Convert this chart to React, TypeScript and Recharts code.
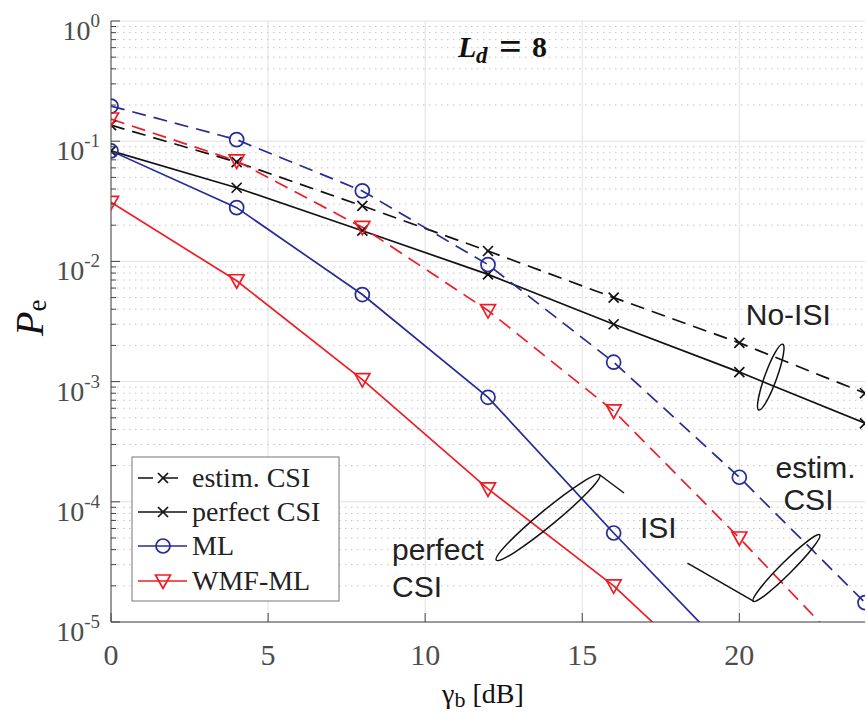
import React from 'react';
import { LineChart, Line, XAxis, YAxis, CartesianGrid, ReferenceDot } from 'recharts';

// ---------- data ----------
const snrDb = [0, 4, 8, 12, 16, 20, 24];
const noIsiEstim = [0.136, 0.067, 0.029, 0.0122, 0.005, 0.0021, 0.0008];
const noIsiPerfect = [0.083, 0.041, 0.018, 0.0078, 0.003, 0.0012, 0.00045];
const mlEstim = [0.196, 0.103, 0.0386, 0.0094, 0.00145, 0.00016, 0.0000145];
const mlPerfect = [0.083, 0.028, 0.0053, 0.00074, 0.000055, 0.0000045, null];
const wmfEstim = [0.153, 0.0685, 0.0192, 0.0039, 0.00057, 0.00005, 0.000004];
const wmfPerfect = [0.031, 0.0069, 0.00104, 0.000128, 0.00002, 0.0000021, null];

const xTicks = [0, 5, 10, 15, 20];
const yMajor = [1e-5, 1e-4, 1e-3, 1e-2, 1e-1, 1];
const yMinorFactors = [2, 3, 4, 5, 6, 7, 8, 9];
const yMinor = yMajor.slice(0, 5).flatMap((d) => yMinorFactors.map((f) => f * d));
const yAll = [...yMajor, ...yMinor];

const legendItems = [
  { label: 'estim. CSI', color: '#111', dash: true, marker: 'x' },
  { label: 'perfect CSI', color: '#111', dash: false, marker: 'x' },
  { label: 'ML', color: '#262b96', dash: false, marker: 'o' },
  { label: 'WMF-ML', color: '#ef1c25', dash: false, marker: 'v' },
];

const data = snrDb.map((x, i) => ({
  x,
  noIsiEstim: noIsiEstim[i],
  noIsiPerfect: noIsiPerfect[i],
  mlEstim: mlEstim[i],
  mlPerfect: mlPerfect[i],
  wmfEstim: wmfEstim[i],
  wmfPerfect: wmfPerfect[i],
}));

const BLACK = '#111';
const BLUE = '#262b96';
const RED = '#ef1c25';
const SERIF = "'Liberation Serif', 'Times New Roman', serif";
const SANS = "'Liberation Sans', Arial, sans-serif";
const TICK_COLOR = '#4d4d4d';
const AXIS_COLOR = '#444';
const DASH = '14 8';
const SW = 1.7;

// ---------- markers ----------
function crossShape(cx: number, cy: number, color: string, key?: any) {
  const s = 5;
  return (
    <g key={key}>
      <line x1={cx - s} y1={cy - s} x2={cx + s} y2={cy + s} stroke={color} strokeWidth={SW} />
      <line x1={cx - s} y1={cy + s} x2={cx + s} y2={cy - s} stroke={color} strokeWidth={SW} />
    </g>
  );
}
function circleShape(cx: number, cy: number, color: string, key?: any) {
  return <circle key={key} cx={cx} cy={cy} r={7} fill="none" stroke={color} strokeWidth={SW} />;
}
function triShape(cx: number, cy: number, color: string, key?: any) {
  const pts = `${cx - 7.5},${cy - 6} ${cx + 7.5},${cy - 6} ${cx},${cy + 7.5}`;
  return <polygon key={key} points={pts} fill="none" stroke={color} strokeWidth={SW} strokeLinejoin="miter" />;
}

const makeDot = (kind: string, color: string) => (p: any) => {
  const key = `${p.dataKey}-${p.index}`;
  if (p.cx == null || p.cy == null || p.value == null) return <g key={key} />;
  if (kind === 'x') return crossShape(p.cx, p.cy, color, key);
  if (kind === 'o') return circleShape(p.cx, p.cy, color, key);
  return triShape(p.cx, p.cy, color, key);
};

// ---------- ticks ----------
const isMajor = (v: number) => {
  const l = Math.log10(v);
  return Math.abs(l - Math.round(l)) < 1e-6;
};

const LeftTick = (props: any) => {
  const { x, y, payload } = props;
  const v = payload.value;
  const major = isMajor(v);
  const e = Math.round(Math.log10(v));
  return (
    <g>
      <line x1={x} x2={x + (major ? 9 : 5)} y1={y} y2={y} stroke={AXIS_COLOR} strokeWidth={1} />
      {major && (
        <text x={x - 11} y={y + 19} textAnchor="end" fontFamily={SERIF} fontSize={28} fill={TICK_COLOR}>
          10
          <tspan fontSize={19} dy={-13}>{String(e)}</tspan>
        </text>
      )}
    </g>
  );
};

const RightTick = (props: any) => {
  const { x, y, payload } = props;
  const major = isMajor(payload.value);
  return <line x1={x} x2={x - (major ? 9 : 5)} y1={y} y2={y} stroke={AXIS_COLOR} strokeWidth={1} />;
};

const BottomTick = (props: any) => {
  const { x, y, payload } = props;
  return (
    <g>
      <line x1={x} x2={x} y1={y} y2={y - 9} stroke={AXIS_COLOR} strokeWidth={1} />
      <text x={x} y={y + 43} textAnchor="middle" fontFamily={SERIF} fontSize={30} fill={TICK_COLOR}>
        {payload.value}
      </text>
    </g>
  );
};

const TopTick = (props: any) => {
  const { x, y } = props;
  return <line x1={x} x2={x} y1={y} y2={y + 9} stroke={AXIS_COLOR} strokeWidth={1} />;
};

// ---------- annotations ----------
const noIsiShape = (p: any) => {
  const { cx, cy } = p;
  return (
    <g>
      <ellipse cx={cx} cy={cy} rx={6} ry={35} transform={`rotate(20 ${cx} ${cy})`} fill="none" stroke={BLACK} strokeWidth={1.5} />
      <text x={cx - 25} y={cy - 52} fontFamily={SANS} fontSize={30} fill="#222">No-ISI</text>
    </g>
  );
};
const estimShape = (p: any) => {
  const { cx, cy } = p;
  return (
    <g>
      <ellipse cx={cx} cy={cy} rx={47} ry={6} transform={`rotate(-45 ${cx} ${cy})`} fill="none" stroke={BLACK} strokeWidth={1.5} />
      <polyline points={`${cx - 33},${cy + 33} ${cx - 99},${cy - 5}`} fill="none" stroke={BLACK} strokeWidth={1.5} />
      <text x={cx - 11} y={cy - 90} fontFamily={SANS} fontSize={30} fill="#222">estim.</text>
      <text x={cx - 3} y={cy - 58} fontFamily={SANS} fontSize={30} fill="#222">CSI</text>
    </g>
  );
};
const perfectShape = (p: any) => {
  const { cx, cy } = p;
  return (
    <g>
      <ellipse cx={cx} cy={cy} rx={67} ry={8} transform={`rotate(-39.5 ${cx} ${cy})`} fill="none" stroke={BLACK} strokeWidth={1.5} />
      <polyline points={`${cx + 52},${cy - 42.5} ${cx + 76},${cy - 24.5}`} fill="none" stroke={BLACK} strokeWidth={1.5} />
      <text x={cx + 92} y={cy + 20.5} fontFamily={SANS} fontSize={30} fill="#222">ISI</text>
      <text x={cx - 156} y={cy + 42.5} fontFamily={SANS} fontSize={30} fill="#222">perfect</text>
      <text x={cx - 156} y={cy + 79.5} fontFamily={SANS} fontSize={30} fill="#222">CSI</text>
    </g>
  );
};

// ---------- overlay (legend, title, axis labels) ----------
const Overlay = () => {
  const lx = 132;
  const ly = 457;
  const rowY = [478, 512, 546, 581];
  return (
    <svg width={866} height={717} style={{ position: 'absolute', left: 0, top: 0, pointerEvents: 'none' }}>
      {/* title */}
      <text x={458} y={57} fontFamily={SERIF} fontSize={30} fontWeight="bold" fontStyle="italic" fill="#111">L</text>
      <text x={476} y={63} fontFamily={SERIF} fontSize={23} fontWeight="bold" fontStyle="italic" fill="#111">d</text>
      <text x={499} y={60} fontFamily={SERIF} fontSize={40} fontWeight="bold" fill="#111">=</text>
      <text x={532} y={57} fontFamily={SERIF} fontSize={30} fontWeight="bold" fill="#111">8</text>
      {/* y label */}
      <text transform="translate(43,336) rotate(-90)" fontFamily={SERIF} fontSize={40} fontStyle="italic" fill="#111">
        P<tspan fontSize={27} fontStyle="normal" dy={3}>e</tspan>
      </text>
      {/* x label */}
      <text x={442} y={703} fontFamily={SERIF} fontSize={28} fill="#111">
        γ<tspan fontSize={22} dy={4}>b</tspan>
        <tspan dy={-4}> [dB]</tspan>
      </text>
      {/* legend */}
      <rect x={lx} y={ly} width={207} height={144} fill="#fff" stroke="#777" strokeWidth={1} />
      {legendItems.map((it, i) => {
        const y = rowY[i];
        return (
          <g key={it.label}>
            <line x1={138} x2={187} y1={y} y2={y} stroke={it.color} strokeWidth={SW} strokeDasharray={it.dash ? '15 10' : undefined} />
            {it.marker === 'x' && crossShape(163, y, it.color)}
            {it.marker === 'o' && circleShape(163, y, it.color)}
            {it.marker === 'v' && triShape(163, y, it.color)}
            <text x={192} y={y + 9} fontFamily={SERIF} fontSize={28} fill="#222">{it.label}</text>
          </g>
        );
      })}
    </svg>
  );
};

export default function App() {
  return (
    <div style={{ position: 'absolute', left: 0, top: 0, width: 866, height: 717, background: '#fff' }}>
      <LineChart width={866} height={717} data={data} margin={{ top: 21, right: 1, left: 0, bottom: 0 }}>
        <CartesianGrid horizontalValues={yMajor} verticalValues={xTicks} stroke="#e2e2e2" strokeWidth={1} />
        <CartesianGrid horizontalValues={yMinor} vertical={false} stroke="#c4c4c4" strokeDasharray="1.5 4.5" strokeWidth={1} />
        <XAxis
          dataKey="x"
          type="number"
          domain={[0, 24]}
          allowDataOverflow
          ticks={xTicks}
          interval={0}
          height={95}
          tickSize={0}
          tickMargin={0}
          tickLine={false}
          tick={<BottomTick />}
          axisLine={{ stroke: AXIS_COLOR, strokeWidth: 1 }}
        />
        <XAxis
          xAxisId="top"
          orientation="top"
          dataKey="x"
          type="number"
          domain={[0, 24]}
          allowDataOverflow
          ticks={xTicks}
          interval={0}
          height={0}
          tickSize={0}
          tickMargin={0}
          tickLine={false}
          tick={<TopTick />}
          axisLine={{ stroke: '#666', strokeWidth: 1 }}
        />
        <YAxis
          type="number"
          scale="log"
          domain={[1e-5, 1]}
          allowDataOverflow
          ticks={yAll}
          interval={0}
          width={111}
          tickSize={0}
          tickMargin={0}
          tickLine={false}
          tick={<LeftTick />}
          axisLine={{ stroke: AXIS_COLOR, strokeWidth: 1 }}
        />
        <YAxis
          yAxisId="right"
          orientation="right"
          type="number"
          scale="log"
          domain={[1e-5, 1]}
          allowDataOverflow
          ticks={yAll}
          interval={0}
          width={0}
          tickSize={0}
          tickMargin={0}
          tickLine={false}
          tick={<RightTick />}
          axisLine={{ stroke: '#666', strokeWidth: 1 }}
        />
        <Line dataKey="noIsiEstim" stroke={BLACK} strokeWidth={SW} strokeDasharray={DASH} dot={makeDot('x', BLACK)} activeDot={false} isAnimationActive={false} />
        <Line dataKey="noIsiPerfect" stroke={BLACK} strokeWidth={SW} dot={makeDot('x', BLACK)} activeDot={false} isAnimationActive={false} />
        <Line dataKey="mlEstim" stroke={BLUE} strokeWidth={SW} strokeDasharray={DASH} dot={makeDot('o', BLUE)} activeDot={false} isAnimationActive={false} />
        <Line dataKey="mlPerfect" stroke={BLUE} strokeWidth={SW} dot={makeDot('o', BLUE)} activeDot={false} isAnimationActive={false} />
        <Line dataKey="wmfEstim" stroke={RED} strokeWidth={SW} strokeDasharray={DASH} dot={makeDot('v', RED)} activeDot={false} isAnimationActive={false} />
        <Line dataKey="wmfPerfect" stroke={RED} strokeWidth={SW} dot={makeDot('v', RED)} activeDot={false} isAnimationActive={false} />
        <ReferenceDot x={21} y={0.00109} r={0} ifOverflow="visible" shape={noIsiShape} />
        <ReferenceDot x={21.5} y={0.0000281} r={0} ifOverflow="visible" shape={estimShape} />
        <ReferenceDot x={13.91} y={0.000074} r={0} ifOverflow="visible" shape={perfectShape} />
      </LineChart>
      <Overlay />
    </div>
  );
}
